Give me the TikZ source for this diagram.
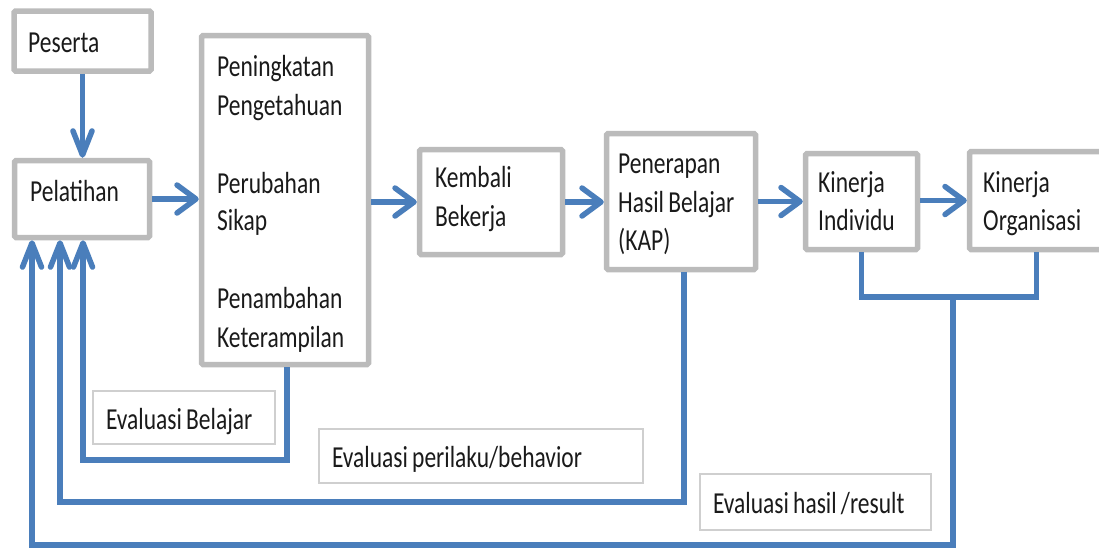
\documentclass[tikz,border=0pt]{standalone}
\usepackage{fontspec}
\setmainfont{Carlito}[FakeStretch=0.77,WordSpace=0.8]
\usetikzlibrary{arrows.meta}
\definecolor{boxgray}{HTML}{BBBBBB}
\definecolor{lblgray}{HTML}{CFCFCF}
\definecolor{flowblue}{HTML}{4A7EBB}
\definecolor{txtcol}{HTML}{1A1A1A}
\newcommand\dgfont{\fontsize{30.5}{38}\selectfont}
\begin{document}
\begin{tikzpicture}[x=1pt,y=-1pt,
  mainbox/.style={draw=boxgray, line width=5.5pt, fill=white, rectangle, inner sep=0pt, rounded corners=1.5pt},
  lblbox/.style={draw=lblgray, line width=1.3pt, fill=white, inner xsep=13pt, inner ysep=0pt, text height=23pt, text depth=0pt, font=\dgfont, text=txtcol},
  txt/.style={anchor=base west, inner sep=0pt, font=\dgfont, text=txtcol},
  flow/.style={draw=flowblue, line width=5.5pt},
  harr/.style={flow, -{Straight Barb[length=19pt,width=28pt,round]}},
  varr/.style={flow, -{Straight Barb[length=24pt,width=19pt,round]}},
]
\useasboundingbox (0,0) rectangle (1099,550);
\clip (0,0) rectangle (1099,550);

% main boxes
\node[mainbox, minimum width=137pt, minimum height=60pt] (peserta) at (82.5,41) {};
\node[mainbox, minimum width=135pt, minimum height=77pt] (pelatihan) at (82,199) {};
\node[mainbox, minimum width=167pt, minimum height=329pt] (big) at (285,200) {};
\node[mainbox, minimum width=143pt, minimum height=105pt] (kembali) at (491,202) {};
\node[mainbox, minimum width=149pt, minimum height=136pt] (penerapan) at (681,201.5) {};
\node[mainbox, minimum width=112pt, minimum height=96pt] (indiv) at (861.5,201.5) {};
\node[mainbox, minimum width=134pt, minimum height=98pt] (org) at (1036.5,200.5) {};

% texts
\node[txt] (t1) at (28,52) {Peserta};
\node[txt] (t2) at (30,201) {Pelatihan};
\node[txt] (t3) at (217,76) {Peningkatan};
\node[txt] (t4) at (217,115) {Pengetahuan};
\node[txt] (t5) at (217,193) {Perubahan};
\node[txt] (t6) at (217,230) {Sikap};
\node[txt] (t7) at (217,308) {Penambahan};
\node[txt] (t8) at (217,347) {Keterampilan};
\node[txt] (t9) at (435,187) {Kembali};
\node[txt] (t10) at (435,226) {Bekerja};
\node[txt] (t11) at (618,173) {Penerapan};
\node[txt] (t12) at (618,212) {Hasil Belajar};
\node[txt] (t13) at (618,250) {(KAP)};
\node[txt] (t14) at (818,192) {Kinerja};
\node[txt] (t15) at (818,230) {Individu};
\node[txt] (t16) at (983,192) {Kinerja};
\node[txt] (t17) at (983,230) {Organisasi};

% label boxes
\node[lblbox, minimum width=182pt, minimum height=53pt] (evb) at (184,417.5) {\makebox[156pt][l]{Evaluasi Belajar}};
\node[lblbox, minimum width=324pt, minimum height=54pt] (evp) at (481,456) {\makebox[298pt][l]{Evaluasi perilaku/behavior}};
\node[lblbox, minimum width=231pt, minimum height=56pt] (evh) at (815.5,502) {\makebox[205pt][l]{Evaluasi hasil /result}};

% forward arrows
\draw[varr] (peserta.south) -- (peserta.south |- pelatihan.north);
\draw[harr] (pelatihan.east) -- (pelatihan.east -| big.west);
\draw[harr] (big.east |- kembali.west) -- (kembali.west);
\draw[harr] (kembali.east) -- (kembali.east -| penerapan.west);
\draw[harr] (penerapan.east) -- (penerapan.east -| indiv.west);
\draw[harr] (indiv.east |- org.west) -- (org.west);

% feedback loops
\coordinate (b1) at (83,460);
\draw[varr] ([xshift=2pt]big.south) |- (b1) -- (b1 |- pelatihan.south);
\coordinate (b2) at (60,502);
\draw[varr] ([xshift=3pt]penerapan.south) |- (b2) -- (b2 |- pelatihan.south);
\coordinate (kj) at (953,297);
\draw[flow] (indiv.south) |- (kj) -| (org.south);
\coordinate (b3) at (32,545);
\draw[varr] (kj) |- (b3) -- (b3 |- pelatihan.south);
\end{tikzpicture}
\end{document}
